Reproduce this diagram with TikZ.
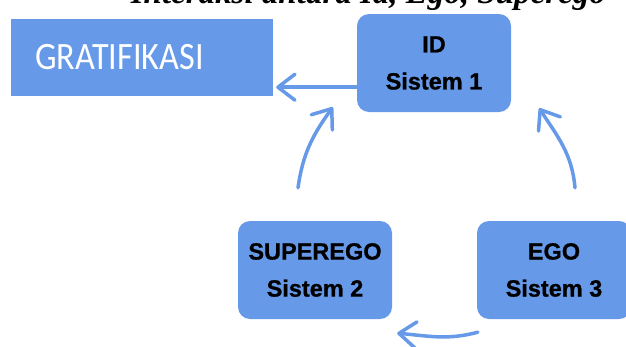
\documentclass[tikz,border=0pt]{standalone}
\usepackage{fontspec}
\usetikzlibrary{arrows.meta}
\newfontfamily\labelfont{Carlito}
\newfontfamily\boxfont{Liberation Sans}[BoldFeatures={FakeBold=0.8}]
\newfontfamily\headfont{Liberation Serif}
\definecolor{boxblue}{HTML}{6699E8}

\begin{document}
\begin{tikzpicture}[x=1pt,y=1pt,
  sysbox/.style={fill=boxblue, rounded corners=12pt, minimum width=154pt,
    minimum height=98pt, inner sep=0pt, align=center,
    font=\boxfont\bfseries\fontsize{23.5pt}{37pt}\selectfont},
  flow/.style={draw=boxblue, line width=3.5pt, line cap=round,
    -{Straight Barb[round,length=17pt,width=26pt]}}]
\useasboundingbox (0,0) rectangle (626,-346);
\begin{scope}
\clip (0,0) rectangle (626,-346);

% heading, only the lower part of its letters falls inside the page
\node[anchor=base east, inner sep=0pt,
  font=\headfont\bfseries\itshape\fontsize{33pt}{33pt}\selectfont]
  (head) at (606,-3) {Interaksi antara Id, Ego, Superego};

% result box
\node[fill=boxblue, minimum height=77pt, inner xsep=24pt, inner ysep=0pt,
  text width=214pt, align=left, text=white,
  font=\labelfont\fontsize{38pt}{38pt}\selectfont]
  (grat) at (142,-57.5) {\scalebox{0.9}[1.02]{GRATIFIKASI}};

% the three systems
\node[sysbox] (id)  at (434,-63)  {ID\\Sistem 1};
\node[sysbox] (sup) at (315,-270) {SUPEREGO\\Sistem 2};
\node[sysbox] (ego) at (554,-270) {EGO\\Sistem 3};

% connectors
\draw[flow] ([yshift=25pt]id.south west) -- ([xshift=3pt,yshift=9pt]grat.south east);
\draw[flow] ([xshift=-17pt,yshift=33pt]sup.north)
  to[out=82,in=234] ([xshift=-24pt,yshift=5pt]id.south west);
\draw[flow] ([xshift=21pt,yshift=33pt]ego.north)
  to[out=95,in=303] ([xshift=28pt,yshift=4pt]id.south east);
\draw[flow] ([xshift=1pt,yshift=-13pt]ego.south west)
  to[out=195,in=-5] ([xshift=5pt,yshift=-14pt]sup.south east);
\end{scope}
\end{tikzpicture}
\end{document}
